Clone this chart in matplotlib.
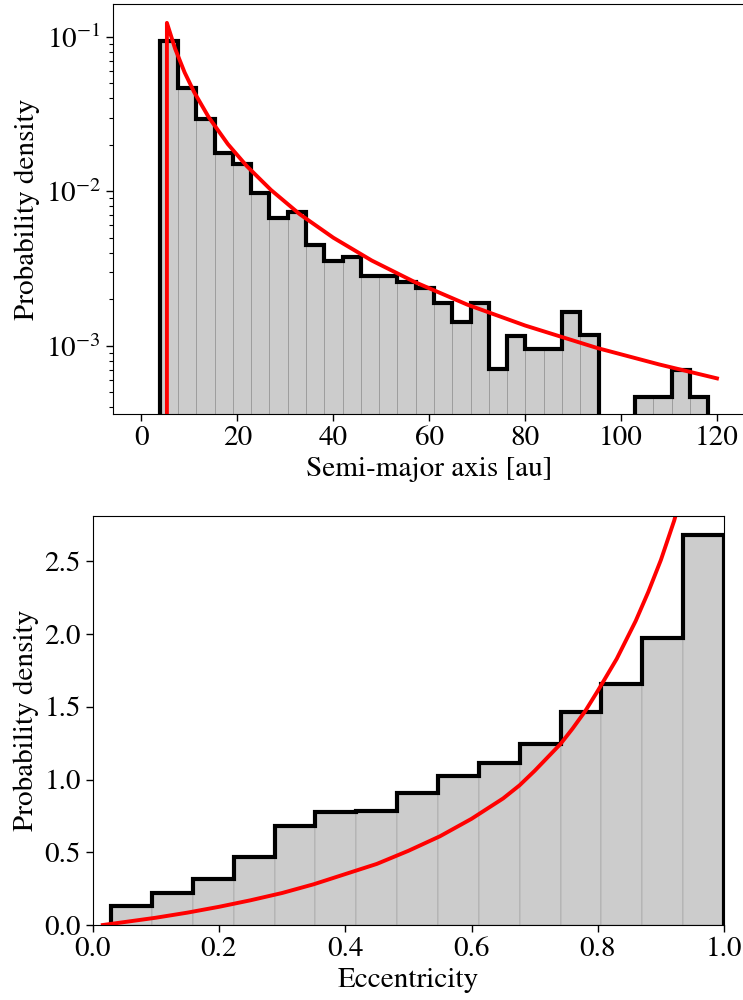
import matplotlib as mpl
mpl.use('Agg')
import matplotlib.pyplot as plt
import numpy as np

plt.rcParams['font.family'] = ['STIXGeneral', 'DejaVu Serif']
plt.rcParams['mathtext.fontset'] = 'stix'
plt.rcParams['font.size'] = 21

# semi-major axis histogram (probability density per bin)
a_edges = np.linspace(3.8, 118.2, 31)
a_dens = [0.0938, 0.0468, 0.0292, 0.01775, 0.0150, 0.00968, 0.00667, 0.00736,
          0.00449, 0.00355, 0.00377, 0.00283, 0.00283, 0.00260, 0.00235,
          0.00190, 0.00142, 0.00190, 0.00071, 0.00116, 0.00095, 0.00095,
          0.00164, 0.00117, 0.0, 0.0, 0.000468, 0.000468, 0.000697, 0.000468]

# model curve for semi-major axis (zero below the inner cut)
a_model = [0.0, 5.3, 5.3, 7, 9, 11, 14, 18, 22, 27, 33, 40, 48, 57, 68, 80,
           95, 108, 120]
a_pdf = [0.0, 0.0, 0.123, 0.0839, 0.0587, 0.0437, 0.0302, 0.0202, 0.0145,
         0.01019, 0.00710, 0.00500, 0.00356, 0.00258, 0.00184, 0.00135,
         0.000966, 0.000755, 0.000614]

# eccentricity histogram
e_edges = np.linspace(0.029, 1.0, 16)
e_dens = [0.133, 0.222, 0.314, 0.470, 0.681, 0.776, 0.785, 0.908, 1.025,
          1.113, 1.245, 1.461, 1.656, 1.973, 2.679]

# model curve for eccentricity
e_model = [0.016, 0.05, 0.1, 0.15, 0.2, 0.25, 0.3, 0.35, 0.4, 0.45, 0.5,
           0.55, 0.6, 0.65, 0.676, 0.7, 0.741, 0.76, 0.78, 0.8, 0.83, 0.86,
           0.88, 0.9, 0.921, 0.94]
e_pdf = [0.0, 0.02, 0.05, 0.085, 0.125, 0.17, 0.22, 0.28, 0.35, 0.42, 0.51,
         0.61, 0.73, 0.87, 0.96, 1.06, 1.245, 1.35, 1.47, 1.61, 1.83, 2.09,
         2.29, 2.51, 2.78, 3.08]

fig = plt.figure(figsize=(7.43, 10), dpi=100)
ax1 = fig.add_axes([0.1517, 0.586, 0.852, 0.410])
ax2 = fig.add_axes([0.1248, 0.075, 0.8497, 0.4093])

def draw_hist(ax, edges, dens, log=False, edge_lw=0.6):
    mids = 0.5 * (edges[:-1] + edges[1:])
    ax.hist(mids, bins=edges, weights=dens, color='#cccccc',
            edgecolor='#999999', linewidth=edge_lw, log=log)
    ax.hist(mids, bins=edges, weights=dens, histtype='step', color='black',
            linewidth=3, log=log)

draw_hist(ax1, a_edges, a_dens, log=True)
ax1.plot(a_model, a_pdf, color='red', linewidth=2.8)
ax1.set_yscale('log')
ax1.set_xlim(-6, 126)
ax1.set_ylim(3.61e-4, 0.163)
ax1.set_xticks([0, 20, 40, 60, 80, 100, 120])
ax1.set_xlabel('Semi-major axis [au]')
ax1.set_ylabel('Probability density')

draw_hist(ax2, e_edges, e_dens, edge_lw=0.35)
ax2.plot(e_model, e_pdf, color='red', linewidth=2.8)
ax2.set_xlim(0, 1)
ax2.set_ylim(0, 2.814)
ax2.set_yticks([0.0, 0.5, 1.0, 1.5, 2.0, 2.5])
ax2.set_xlabel('Eccentricity')
ax2.set_ylabel('Probability density')

for ax in (ax1, ax2):
    ax.tick_params(which='major', length=5, width=1)
    ax.tick_params(which='minor', length=3, width=0.8)

fig.savefig('out.png', dpi=100)
